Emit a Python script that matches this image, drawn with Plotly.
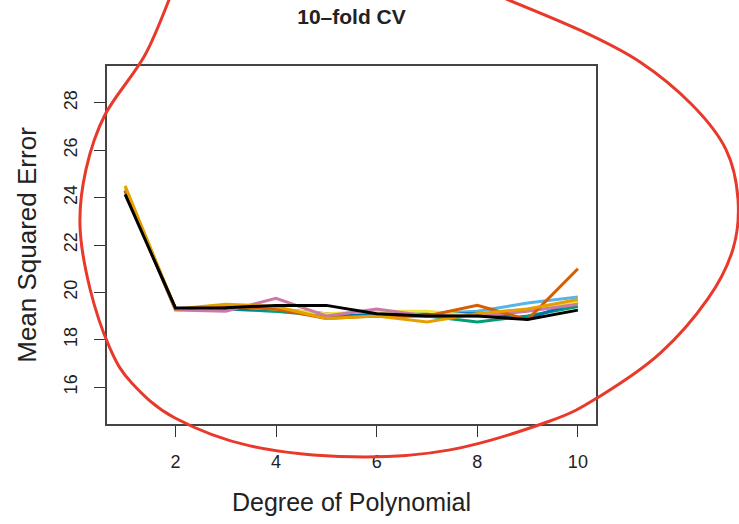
import plotly.graph_objects as go

degree = [1, 2, 3, 4, 5, 6, 7, 8, 9, 10]

cv_runs = {
    "#56B4E9": [24.4, 19.3, 19.3, 19.2, 19.1, 19.0, 19.1, 19.2, 19.55, 19.8],
    "#009E73": [24.3, 19.3, 19.3, 19.2, 19.0, 19.0, 19.0, 18.75, 19.0, 19.4],
    "#0072B2": [24.3, 19.3, 19.3, 19.3, 19.1, 19.1, 19.1, 19.1, 18.9, 19.6],
    "#F0E442": [24.4, 19.3, 19.4, 19.3, 19.1, 19.2, 19.2, 19.0, 19.3, 19.6],
    "#CC79A7": [24.3, 19.25, 19.2, 19.75, 19.0, 19.3, 19.0, 19.0, 19.2, 19.5],
    "#D55E00": [24.3, 19.3, 19.4, 19.3, 18.9, 19.0, 19.0, 19.45, 18.85, 21.0],
    "#E69F00": [24.5, 19.3, 19.5, 19.4, 18.9, 19.0, 18.75, 19.1, 19.3, 19.7],
    "black":   [24.14, 19.34, 19.35, 19.45, 19.45, 19.1, 19.0, 19.0, 18.85, 19.25],
}

x_ticks = [2, 4, 6, 8, 10]
y_ticks = [16, 18, 20, 22, 24, 26, 28]

fig = go.Figure()
for color, vals in cv_runs.items():
    fig.add_trace(go.Scatter(x=degree, y=vals, mode="lines",
                             line=dict(color=color, width=3), showlegend=False))

# hand-drawn red loop (pixel coordinates)
W, H = 739, 524
L, R, T, B = 107, 143, 66, 98
pw, ph = W - L - R, H - T - B
pts = [(172, -8), (145, 55), (105, 115), (86, 170), (80, 227), (90, 290), (110, 350),
       (132, 385), (175, 420), (250, 448), (353, 459), (450, 452), (550, 423),
       (600, 398), (660, 355), (708, 300), (733, 250), (738, 200), (726, 150),
       (692, 105), (640, 62), (580, 30), (490, -8)]
pp = [((x - L) / pw, (H - B - y) / ph) for x, y in pts]
d = "M %f,%f" % pp[0]
for i in range(len(pp) - 1):
    p0 = pp[i - 1] if i > 0 else pp[i]
    p1, p2 = pp[i], pp[i + 1]
    p3 = pp[i + 2] if i + 2 < len(pp) else pp[i + 1]
    c1 = (p1[0] + (p2[0] - p0[0]) / 6, p1[1] + (p2[1] - p0[1]) / 6)
    c2 = (p2[0] - (p3[0] - p1[0]) / 6, p2[1] - (p3[1] - p1[1]) / 6)
    d += " C %f,%f %f,%f %f,%f" % (c1 + c2 + p2)
fig.add_shape(type="path", path=d, xref="paper", yref="paper",
              line=dict(color="#E8392A", width=3))

font_family = "Liberation Sans, Arial, sans-serif"
fig.update_layout(
    width=W, height=H,
    margin=dict(l=L, r=R, t=T, b=B),
    plot_bgcolor="white", paper_bgcolor="white",
    title=dict(text="<b>10\u2013fold CV</b>", x=(L + pw / 2) / W, xanchor="center",
               y=1 - 17 / H, yanchor="middle",
               font=dict(family=font_family, size=21, color="#222")),
    font=dict(family=font_family, color="#222"),
    xaxis=dict(range=[0.64, 10.36], tickvals=x_ticks, ticks="outside", ticklen=11,
               tickwidth=1.3, tickcolor="#333", showgrid=False, zeroline=False,
               showline=True, mirror=True, linecolor="#444", linewidth=1.5,
               ticklabelstandoff=10,
               tickfont=dict(size=18), title=dict(text="Degree of Polynomial",
               font=dict(size=25), standoff=22)),
    yaxis=dict(range=[14.44, 29.56], tickvals=y_ticks, ticks="outside", ticklen=11,
               tickwidth=1.3, tickcolor="#333", showgrid=False, zeroline=False,
               showline=True, mirror=True, linecolor="#444", linewidth=1.5,
               tickangle=-90, tickfont=dict(size=18), ticklabelstandoff=10,
               title=dict(text="Mean Squared Error", font=dict(size=26), standoff=17)),
)

fig.write_html("out.html")
